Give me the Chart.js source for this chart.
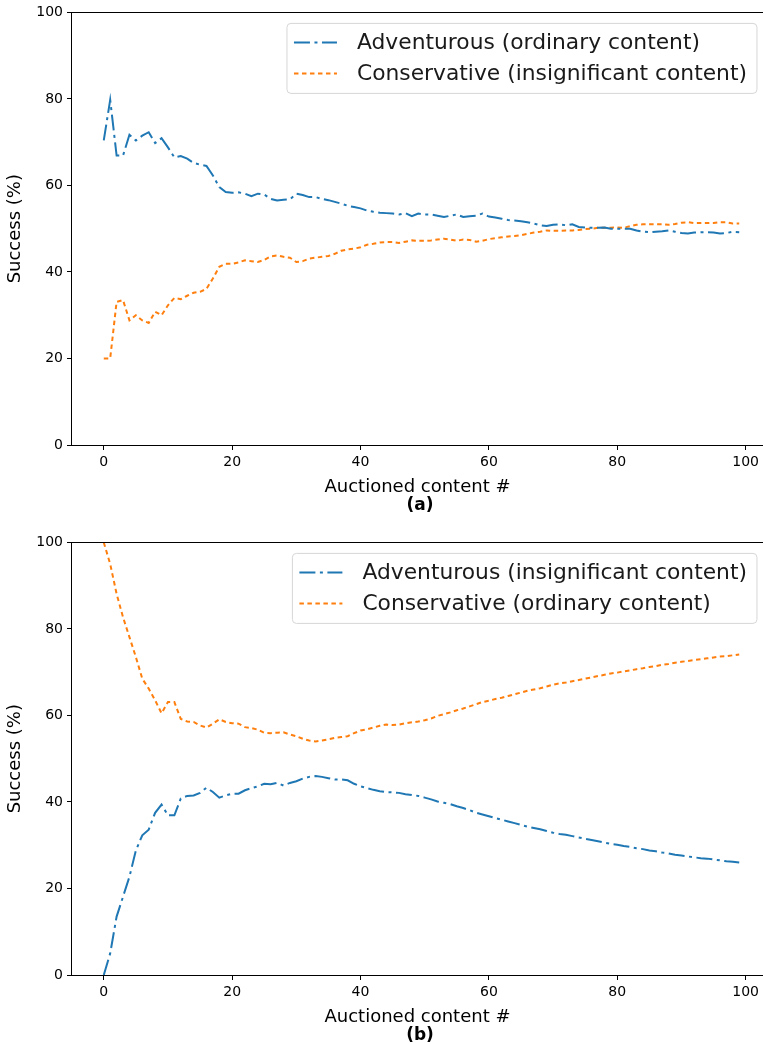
<!DOCTYPE html>
<html>
<head>
<meta charset="utf-8">
<script src="https://cdn.jsdelivr.net/npm/chart.js@4.4.0/dist/chart.umd.min.js"></script>
<style>
  body { margin: 0; background: #fff; width: 763px; height: 1044px; overflow: hidden; position: relative; }
  .panel { position: absolute; left: 0; width: 763px; height: 500px; }
  .cap { position: absolute; left: 0; width: 840px; text-align: center; font: bold 17px "DejaVu Sans"; color: #000; }
</style>
</head>
<body>
<div class="panel" style="top:0"><canvas id="chartA" width="763" height="500"></canvas></div>
<div class="cap" style="top:494px">(a)</div>
<div class="panel" style="top:530px"><canvas id="chartB" width="763" height="500"></canvas></div>
<div class="cap" style="top:1024px">(b)</div>
<script>
// x = auctioned content index 0..99
const contentIdx = Array.from({length: 100}, (_, i) => i);
const xTicks = [0, 20, 40, 60, 80, 100];
const yTicks = [0, 20, 40, 60, 80, 100];

// (a)
const advOrdinary = [
  70.4, 79.8, 66.9, 66.9, 71.7, 70.4, 71.5, 72.3, 69.8, 70.9,
  68.8, 66.5, 66.8, 66.2, 65.2, 64.8, 64.5, 62.3, 59.6, 58.5,
  58.3, 58.4, 58.1, 57.5, 58.1, 57.9, 56.9, 56.5, 56.7, 56.8,
  58.1, 57.8, 57.3, 57.3, 56.9, 56.6, 56.2, 55.8, 55.3, 55.0,
  54.7, 54.2, 53.9, 53.7, 53.6, 53.5, 53.3, 53.6, 52.9, 53.5,
  53.3, 53.3, 53.0, 52.7, 53.0, 53.3, 52.7, 52.9, 53.0, 53.5,
  52.8, 52.6, 52.3, 52.0, 51.9, 51.7, 51.5, 51.2, 50.8, 50.6,
  50.9, 51.0, 50.8, 51.0, 50.4, 50.3, 50.2, 50.2, 50.3, 50.0,
  50.0, 50.0, 50.0, 49.6, 49.3, 49.2, 49.3, 49.4, 49.6, 49.3,
  49.0, 48.9, 49.1, 49.2, 49.2, 49.1, 48.9, 49.0, 49.3, 49.2
];
const consInsignificant = [
  20.0, 20.0, 33.1, 33.5, 28.8, 30.0, 28.8, 28.2, 30.8, 30.0,
  32.3, 34.0, 33.7, 34.5, 35.2, 35.4, 36.1, 38.5, 41.2, 41.9,
  41.9, 42.2, 42.7, 42.5, 42.3, 42.8, 43.6, 43.8, 43.5, 43.3,
  42.3, 42.5, 43.1, 43.3, 43.5, 43.7, 44.2, 44.9, 45.2, 45.4,
  45.7, 46.3, 46.5, 46.8, 46.9, 46.9, 46.7, 47.0, 47.3, 47.2,
  47.2, 47.3, 47.5, 47.7, 47.5, 47.2, 47.5, 47.4, 47.0, 47.2,
  47.6, 47.8, 48.0, 48.2, 48.3, 48.5, 48.8, 49.1, 49.3, 49.6,
  49.5, 49.5, 49.6, 49.6, 49.7, 49.9, 50.0, 50.2, 50.2, 50.2,
  50.3, 50.2, 50.6, 50.9, 51.0, 51.0, 51.0, 51.0, 50.9, 51.1,
  51.4, 51.5, 51.3, 51.3, 51.3, 51.3, 51.5, 51.5, 51.2, 51.2
];

// (b)
const advInsignificant = [
  0.0, 5.0, 13.5, 18.1, 22.7, 28.8, 32.3, 33.6, 37.5, 39.4,
  36.9, 36.9, 40.8, 41.4, 41.5, 42.1, 43.3, 42.3, 41.0, 41.5,
  41.9, 41.9, 42.7, 43.2, 43.6, 44.2, 44.1, 44.4, 43.8, 44.4,
  44.8, 45.4, 45.8, 46.0, 45.8, 45.5, 45.2, 45.2, 45.0, 44.2,
  43.6, 43.2, 42.8, 42.5, 42.3, 42.2, 42.1, 41.8, 41.6, 41.4,
  41.0, 40.6, 40.1, 39.8, 39.5, 39.0, 38.6, 38.1, 37.5, 37.1,
  36.7, 36.3, 35.9, 35.5, 35.1, 34.7, 34.3, 34.0, 33.7, 33.3,
  32.9, 32.6, 32.4, 32.1, 31.8, 31.5, 31.2, 30.9, 30.6, 30.3,
  30.1, 29.8, 29.6, 29.3, 29.1, 28.8, 28.6, 28.3, 28.1, 27.8,
  27.6, 27.4, 27.2, 27.0, 26.9, 26.7, 26.5, 26.3, 26.2, 26.0
];
const consOrdinary = [
  100.0, 95.0, 88.1, 82.7, 78.1, 73.5, 68.5, 66.2, 63.5, 60.5,
  63.1, 63.1, 59.2, 58.6, 58.5, 57.7, 57.2, 58.1, 59.1, 58.5,
  58.2, 58.1, 57.3, 57.1, 56.7, 56.0, 55.9, 56.0, 56.1, 55.6,
  55.2, 54.6, 54.2, 54.0, 54.2, 54.5, 54.8, 55.0, 55.2, 55.9,
  56.5, 56.8, 57.2, 57.6, 57.9, 57.8, 57.9, 58.2, 58.4, 58.6,
  58.9, 59.3, 59.9, 60.3, 60.7, 61.2, 61.6, 62.1, 62.6, 63.1,
  63.4, 63.8, 64.1, 64.5, 64.9, 65.3, 65.7, 66.0, 66.3, 66.7,
  67.1, 67.4, 67.6, 67.9, 68.2, 68.5, 68.8, 69.1, 69.4, 69.7,
  69.9, 70.2, 70.4, 70.7, 70.9, 71.2, 71.4, 71.7, 71.9, 72.2,
  72.4, 72.6, 72.8, 73.0, 73.2, 73.4, 73.6, 73.7, 73.9, 74.1
];

const BLUE = '#1f77b4';
const ORANGE = '#ff7f0e';
const DASHDOT = [16, 4.5, 3, 4.5];
const DOTTED = [4.5, 3.5];

function toPoints(vals) {
    return contentIdx.map((x, i) => ({x: x, y: vals[i]}));
}

// spines on all four sides, like matplotlib
const spines = {
    id: 'spines',
    afterDatasetsDraw(chart) {
        const a = chart.chartArea;
        const ctx = chart.ctx;
        ctx.save();
        ctx.strokeStyle = '#000';
        ctx.lineWidth = 1;
        ctx.strokeRect(Math.round(a.left) - 0.5, Math.round(a.top) + 0.5, Math.round(a.right - a.left) + 1, Math.round(a.bottom - a.top));
        ctx.restore();
    }
};

// framed legend in the upper right corner of the plot
const boxLegend = {
    id: 'boxLegend',
    afterDraw(chart) {
        const a = chart.chartArea;
        const ctx = chart.ctx;
        const sets = chart.data.datasets;
        ctx.save();
        ctx.font = '21.8px "DejaVu Sans"';
        let textW = 0;
        sets.forEach(d => { textW = Math.max(textW, ctx.measureText(d.label).width); });
        const w = 70 + textW + 10;
        const h = 70;
        const x = a.right - 6 - w;
        const y = a.top + 11;
        const r = 4;
        ctx.beginPath();
        ctx.moveTo(x + r, y);
        ctx.lineTo(x + w - r, y);
        ctx.quadraticCurveTo(x + w, y, x + w, y + r);
        ctx.lineTo(x + w, y + h - r);
        ctx.quadraticCurveTo(x + w, y + h, x + w - r, y + h);
        ctx.lineTo(x + r, y + h);
        ctx.quadraticCurveTo(x, y + h, x, y + h - r);
        ctx.lineTo(x, y + r);
        ctx.quadraticCurveTo(x, y, x + r, y);
        ctx.closePath();
        ctx.fillStyle = 'rgba(255,255,255,0.8)';
        ctx.fill();
        ctx.strokeStyle = '#d6d6d6';
        ctx.lineWidth = 1;
        ctx.stroke();
        sets.forEach((d, i) => {
            const cy = y + 19 + i * 31;
            ctx.beginPath();
            ctx.setLineDash(d.borderDash);
            ctx.strokeStyle = d.borderColor;
            ctx.lineWidth = 2;
            ctx.moveTo(x + 7, cy);
            ctx.lineTo(x + 50, cy);
            ctx.stroke();
            ctx.setLineDash([]);
            ctx.fillStyle = '#1a1a1a';
            ctx.textBaseline = 'middle';
            ctx.fillText(d.label, x + 70, cy + 1);
        });
        ctx.restore();
    }
};

function makeChart(canvasId, labelA, valsA, labelB, valsB) {
    const ctx = document.getElementById(canvasId).getContext('2d');
    return new Chart(ctx, {
        type: 'line',
        data: {
            datasets: [{
                label: labelA,
                data: toPoints(valsA),
                borderColor: BLUE,
                borderWidth: 2,
                borderDash: DASHDOT,
                pointRadius: 0,
                tension: 0,
                fill: false
            }, {
                label: labelB,
                data: toPoints(valsB),
                borderColor: ORANGE,
                borderWidth: 2,
                borderDash: DOTTED,
                pointRadius: 0,
                tension: 0,
                fill: false
            }]
        },
        options: {
            responsive: false,
            animation: false,
            layout: { padding: { top: 12, left: 0, right: 0, bottom: 0 } },
            plugins: {
                legend: { display: false },
                tooltip: { enabled: false }
            },
            scales: {
                x: {
                    type: 'linear',
                    min: -4.95,
                    max: 102.7,
                    afterBuildTicks: s => { s.ticks = xTicks.map(v => ({value: v})); },
                    afterFit: s => { s.height = 55; },
                    grid: { display: true, drawOnChartArea: false, drawTicks: true, tickLength: 5, tickColor: '#000' },
                    border: { display: false },
                    ticks: { color: '#000', font: { family: 'DejaVu Sans', size: 14 }, padding: 4, maxRotation: 0 },
                    title: { display: true, text: 'Auctioned content #', color: '#000', font: { family: 'DejaVu Sans', size: 18 }, padding: { top: 2, bottom: 2 } }
                },
                y: {
                    min: 0,
                    max: 100,
                    afterBuildTicks: s => { s.ticks = yTicks.map(v => ({value: v})); },
                    afterFit: s => { s.width = 72; },
                    grid: { display: true, drawOnChartArea: false, drawTicks: true, tickLength: 5, tickColor: '#000' },
                    border: { display: false },
                    ticks: { color: '#000', font: { family: 'DejaVu Sans', size: 14 }, padding: 4 },
                    title: { display: true, text: 'Success (%)', color: '#000', font: { family: 'DejaVu Sans', size: 18 }, padding: { top: 5, bottom: 0 } }
                }
            }
        },
        plugins: [spines, boxLegend]
    });
}

makeChart('chartA', 'Adventurous (ordinary content)', advOrdinary, 'Conservative (insignificant content)', consInsignificant);
makeChart('chartB', 'Adventurous (insignificant content)', advInsignificant, 'Conservative (ordinary content)', consOrdinary);
</script>
</body>
</html>
